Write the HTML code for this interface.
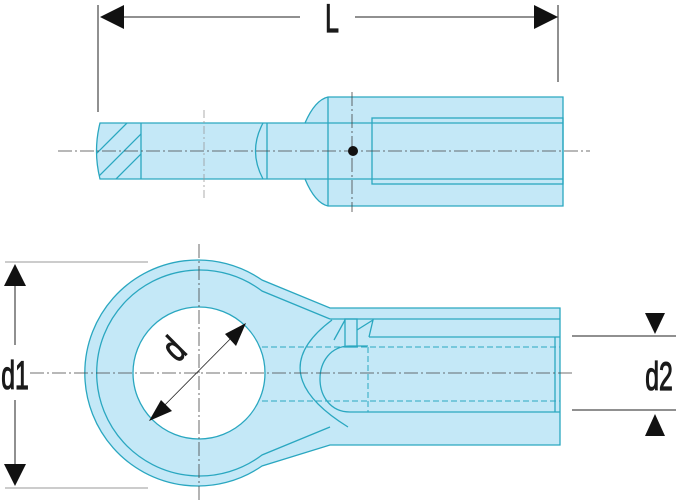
<!DOCTYPE html>
<html><head><meta charset="utf-8"><style>
html,body{margin:0;padding:0;background:#fff;}
svg{display:block;}
text{font-family:"Liberation Sans",sans-serif;fill:#1a1a1a;stroke:#1a1a1a;stroke-width:1.2;}
</style></head><body>
<svg width="676" height="500" viewBox="0 0 676 500" xmlns="http://www.w3.org/2000/svg">
<defs>
<clipPath id="hc"><path d="M100 123 L141 123 L141 179 L100 179 Q93 151 100 123Z"/></clipPath>
</defs>
<g stroke="#2aa7c0" stroke-width="1.3" fill="#c4e8f7">
<path d="M100 123 L305 123 Q315 100 328 97 L563 97 L563 206 L328 206 Q315 203 305 179 L100 179 Q93 151 100 123Z"/>
<line x1="141" y1="123" x2="141" y2="179"/>
<line x1="267" y1="123" x2="267" y2="179"/>
<path d="M263 123 Q248 151 263 179" fill="none"/>
<line x1="305" y1="123" x2="563" y2="123"/>
<line x1="305" y1="179" x2="563" y2="179"/>
<line x1="328" y1="97" x2="328" y2="206"/>
<rect x="372" y="118" width="191" height="66" fill="none"/>
<g clip-path="url(#hc)" fill="none">
<line x1="90" y1="160" x2="130" y2="120"/>
<line x1="90" y1="185" x2="145" y2="130"/>
<line x1="110" y1="185" x2="145" y2="150"/>
</g>
<path d="M330 308 L560 308 L560 445 L330 445 L262 466 A113 113 0 1 1 262 280 Z"/>
<path d="M330 319 L262 291 A103 103 0 1 0 262 455 L330 427" fill="none"/>
<circle cx="199" cy="373" r="66" fill="#fff"/>
<path d="M332 320 Q261 373 348 427" fill="none"/>
<path d="M368 346 L350 346 C310 346 310 412 350 412 L560 412" fill="none"/>
<line x1="330" y1="319" x2="560" y2="319"/>
<line x1="369" y1="337" x2="560" y2="337"/>
<rect x="345" y="319" width="12" height="28" fill="none"/>
<path d="M334 340 L345 320 M357 330 L373 320 L369 337" fill="none"/>
<line x1="555" y1="337" x2="555" y2="412"/>
<g stroke-dasharray="6,3" stroke-width="1" fill="none">
<line x1="262" y1="347" x2="560" y2="347"/>
<line x1="262" y1="401" x2="560" y2="401"/>
<line x1="368" y1="347" x2="368" y2="412"/>
</g>
</g>
<g stroke="#444" stroke-width="0.8" stroke-dasharray="14,3,2,3" fill="none">
<line x1="58" y1="151" x2="590" y2="151"/>
<line x1="352" y1="92" x2="352" y2="212"/>
<line x1="30" y1="373" x2="572" y2="373"/>
<line x1="199" y1="244" x2="199" y2="500"/>
</g>
<line x1="204" y1="110" x2="204" y2="198" stroke="#999" stroke-width="0.8" stroke-dasharray="8,3,2,3"/>
<circle cx="353" cy="151" r="5" fill="#111"/>
<g stroke="#222" stroke-width="1" fill="none">
<line x1="98" y1="5" x2="98" y2="112"/>
<line x1="558" y1="5" x2="558" y2="82"/>
<line x1="120" y1="17" x2="300" y2="17"/>
<line x1="355" y1="17" x2="540" y2="17"/>
<line x1="15" y1="285" x2="15" y2="345"/>
<line x1="15" y1="400" x2="15" y2="465"/>
<line x1="572" y1="336" x2="676" y2="336"/>
<line x1="572" y1="410" x2="676" y2="410"/>
<line x1="150" y1="420" x2="245" y2="324" stroke-width="0.8"/>
</g>
<g stroke="#999" stroke-width="1">
<line x1="5" y1="262" x2="148" y2="262"/>
<line x1="5" y1="488" x2="148" y2="488"/>
</g>
<g fill="#111">
<polygon points="100,17 124,5 124,29"/>
<polygon points="558,17 534,5 534,29"/>
<polygon points="15,264 4,286 26,286"/>
<polygon points="15,486 4,464 26,464"/>
<polygon points="655,334 645,313 665,313"/>
<polygon points="655,414 645,436 665,436"/>
<polygon points="246,323 225,334 236,346"/>
<polygon points="149,421 161,400 172,411"/>
</g>
<text font-size="40" text-anchor="middle" transform="translate(332,32) scale(0.62,1)">L</text>
<text font-size="40" text-anchor="middle" transform="translate(15,389) scale(0.62,1)">d1</text>
<text font-size="40" text-anchor="middle" transform="translate(659,390) scale(0.62,1)">d2</text>
<text font-size="38" text-anchor="middle" transform="translate(183,358) rotate(-45) scale(0.7,1)">d</text>
</svg>
</body></html>
